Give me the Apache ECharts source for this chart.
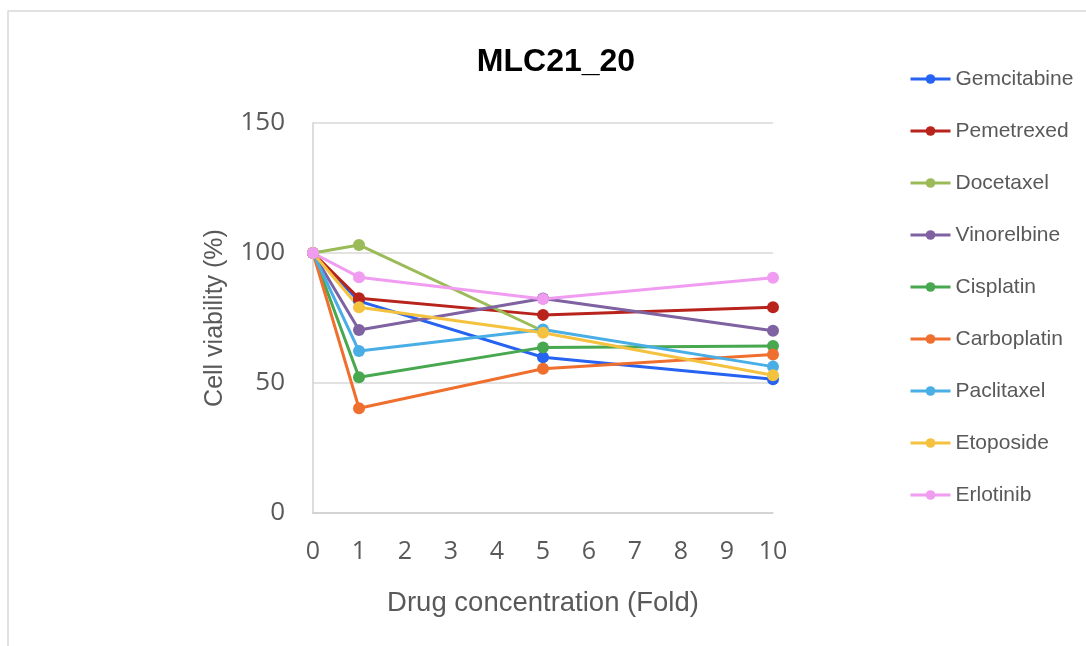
<!DOCTYPE html>
<html><head><meta charset="utf-8">
<script src="https://cdn.jsdelivr.net/npm/echarts@6/dist/echarts.min.js"></script>
<style>html,body{margin:0;padding:0;background:#fff;}#c{width:1086px;height:646px;}</style>
</head><body><div id="c"></div>
<script>
var xValues = [0, 1, 5, 10];
var seriesNames = ['Gemcitabine','Pemetrexed','Docetaxel','Vinorelbine','Cisplatin','Carboplatin','Paclitaxel','Etoposide','Erlotinib'];
var gemcitabine = [100, 81.5, 59.9, 51.4];
var pemetrexed  = [100, 82.6, 76.2, 79.1];
var docetaxel   = [100, 103.1, 70.0, null];
var vinorelbine = [100, 70.4, 82.5, 70.1];
var cisplatin   = [100, 52.2, 63.7, 64.2];
var carboplatin = [100, 40.3, 55.5, 61.0];
var paclitaxel  = [100, 62.3, 70.6, 56.3];
var etoposide   = [100, 79.1, 69.3, 53.0];
var erlotinib   = [100, 90.7, 82.3, 90.5];
var yTicks = [0, 50, 100, 150];
var colors = ['#2563f0','#b8231c','#9bbb59','#7e62a1','#47a84f','#ef6f2e','#4aaee6','#f4c23f','#f09cf0'];
var allData = [gemcitabine,pemetrexed,docetaxel,vinorelbine,cisplatin,carboplatin,paclitaxel,etoposide,erlotinib];

var series = seriesNames.map(function(n,i){
  return {
    name:n, type:'line', symbol:'circle', symbolSize:12,
    data: xValues.map(function(x,j){ return allData[i][j]==null ? null : [x, allData[i][j]]; }).filter(function(d){return d;}),
    lineStyle:{width:3,color:colors[i]}, itemStyle:{color:colors[i]},
    emphasis:{disabled:true}, animation:false
  };
});

var chart = echarts.init(document.getElementById('c'), null, {renderer:'canvas'});
chart.setOption({
  animation:false,
  color: colors,
  graphic:[{type:'rect', shape:{x:8,y:11,width:1200,height:800}, style:{fill:'none',stroke:'#d9d9d9',lineWidth:1.5}, silent:true}],
  title:{text:'MLC21_20', left:551, top:41, textAlign:'center',
    textStyle:{fontFamily:'Liberation Sans, Arial', fontSize:32, fontWeight:'bold', color:'#000'}},
  legend:{orient:'vertical', left:904, top:63, itemGap:30, itemWidth:40, itemHeight:12,
    lineStyle:{width:3},
    textStyle:{fontFamily:'Liberation Sans, Arial', fontSize:21, lineHeight:22, color:'#595959', padding:[0,0,0,0]},
    data: seriesNames},
  grid:{left:313, right:313, top:123, bottom:133},
  xAxis:{type:'value', min:0, max:10, interval:1,
    name:'Drug concentration (Fold)', nameLocation:'middle', nameGap:76,
    nameTextStyle:{fontFamily:'Liberation Sans, Arial', fontSize:27.5, color:'#595959'},
    axisLine:{show:true, lineStyle:{color:'#d0d0d0', width:1.5}}, axisTick:{show:false},
    axisLabel:{fontFamily:'Open Sans', fontSize:25, color:'#595959', margin:26},
    splitLine:{show:false}},
  yAxis:{type:'value', min:yTicks[0], max:yTicks[yTicks.length-1], interval:50,
    name:'Cell viability (%)', nameLocation:'middle', nameGap:85,
    nameTextStyle:{fontFamily:'Liberation Sans, Arial', fontSize:25, color:'#595959'},
    axisLine:{show:true, lineStyle:{color:'#d0d0d0', width:1.5}}, axisTick:{show:false},
    axisLabel:{fontFamily:'Open Sans', fontSize:26, color:'#595959', margin:28},
    splitLine:{show:true, lineStyle:{color:'#d9d9d9', width:1.5}}},
  series: series
});
</script></body></html>
